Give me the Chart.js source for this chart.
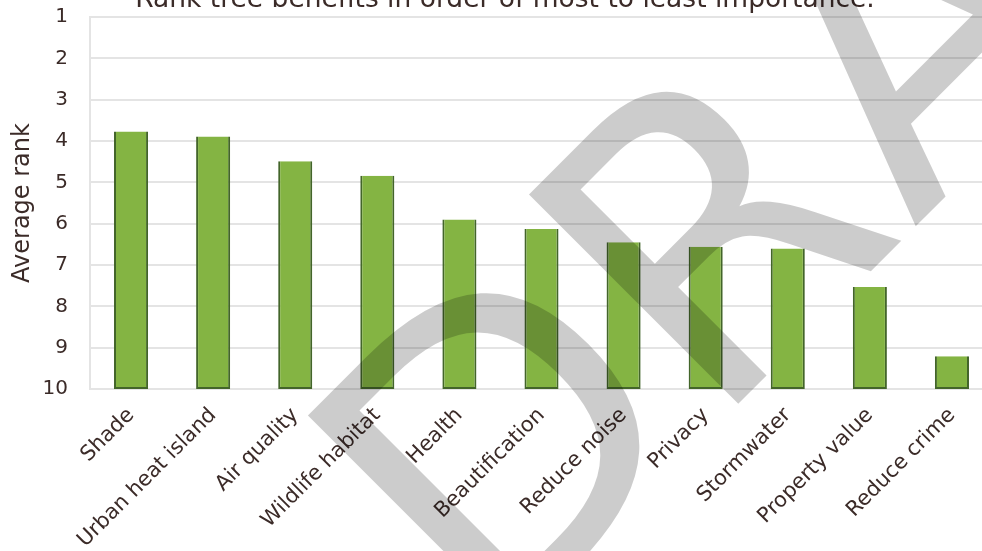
<!DOCTYPE html>
<html>
<head>
<meta charset="utf-8">
<script src="https://cdn.jsdelivr.net/npm/chart.js@4/dist/chart.umd.min.js"></script>
<style>
  html, body { margin: 0; padding: 0; background: #fff; overflow: hidden; width: 982px; height: 551px; }
  #wrap { position: absolute; left: 0; top: 0; width: 1010px; height: 551px; }
</style>
</head>
<body>
<div id="wrap"><canvas id="rankChart" width="1010" height="551"></canvas></div>
<script>
// --- data ---
const benefits = ['Shade', 'Urban heat island', 'Air quality', 'Wildlife habitat', 'Health', 'Beautification',
                  'Reduce noise', 'Privacy', 'Stormwater', 'Property value', 'Reduce crime'];
const averageRank = [3.77, 3.89, 4.49, 4.84, 5.90, 6.13, 6.45, 6.56, 6.60, 7.53, 9.21];
const rankTicks = [1, 2, 3, 4, 5, 6, 7, 8, 9, 10];
const chartTitle = 'Rank tree benefits in order of most to least importance.';
const axisTitle = 'Average rank';
const watermark = 'DRAFT';

const textColor = '#3b2b28';
const gridColor = '#e4e4e4';
const fontFamily = '"DejaVu Sans", sans-serif';

const rankMin = rankTicks[0];
const rankMax = rankTicks[rankTicks.length - 1];

// title (partly cut at the top) and the DRAFT watermark
const overlayPlugin = {
    id: 'overlay',
    afterDraw(chart) {
        const ctx = chart.ctx;
        ctx.save();
        ctx.fillStyle = textColor;
        ctx.font = '26.5px ' + fontFamily;
        ctx.textAlign = 'center';
        ctx.textBaseline = 'alphabetic';
        ctx.fillText(chartTitle, 505, 7);
        ctx.restore();

        ctx.save();
        const size = 406;
        const spacing = 22;
        const first = watermark.slice(0, 1);
        const rest = watermark.slice(1);
        ctx.font = size + 'px ' + fontFamily;
        const dWidth = ctx.measureText(first).width;
        const rLsb = -ctx.measureText(rest.charAt(0)).actualBoundingBoxLeft;
        const ang = -Math.PI / 4;
        const along = dWidth + rLsb;
        const ox = 737 - along * Math.cos(ang);
        const oy = 405 - along * Math.sin(ang);
        ctx.translate(ox, oy);
        ctx.rotate(ang);
        ctx.fillStyle = 'rgba(0, 0, 0, 0.2)';
        ctx.textAlign = 'left';
        ctx.textBaseline = 'alphabetic';
        ctx.fillText(first, 0, 0);
        ctx.letterSpacing = spacing + 'px';
        ctx.fillText(rest, dWidth, 0);
        ctx.restore();
    }
};

const ctx = document.getElementById('rankChart').getContext('2d');
const rankChart = new Chart(ctx, {
    type: 'bar',
    data: {
        labels: benefits,
        datasets: [{
            label: axisTitle,
            data: averageRank.map(v => [rankMax, v]),
            backgroundColor: '#84b443',
            borderColor: '#43652a',
            borderWidth: 2,
            borderSkipped: 'start',
            barPercentage: 0.415,
            categoryPercentage: 1
        }]
    },
    options: {
        responsive: false,
        animation: false,
        devicePixelRatio: 1,
        layout: { padding: { top: 17, right: 17, left: 0, bottom: 0 } },
        plugins: {
            legend: { display: false },
            title: { display: false },
            tooltip: { enabled: false }
        },
        scales: {
            x: {
                grid: { display: false, drawTicks: false },
                border: { display: false },
                ticks: {
                    color: textColor,
                    font: { family: fontFamily, size: 21 },
                    minRotation: 45,
                    maxRotation: 45,
                    padding: 14
                },
                afterFit(scale) { scale.height = 162; }
            },
            y: {
                reverse: true,
                min: rankMin,
                max: rankMax,
                grid: { color: gridColor, lineWidth: 2, drawTicks: false },
                border: { display: true, color: gridColor, width: 2 },
                ticks: {
                    stepSize: 1,
                    color: textColor,
                    font: { family: fontFamily, size: 20 },
                    padding: 22
                },
                title: {
                    display: true,
                    text: axisTitle,
                    color: textColor,
                    font: { family: fontFamily, size: 24 },
                    padding: { top: 8, bottom: 0 }
                },
                afterFit(scale) {
                    scale.width = 90;
                    scale.paddingTop = 0;
                    scale.paddingBottom = 0;
                }
            }
        }
    },
    plugins: [overlayPlugin]
});
</script>
</body>
</html>
